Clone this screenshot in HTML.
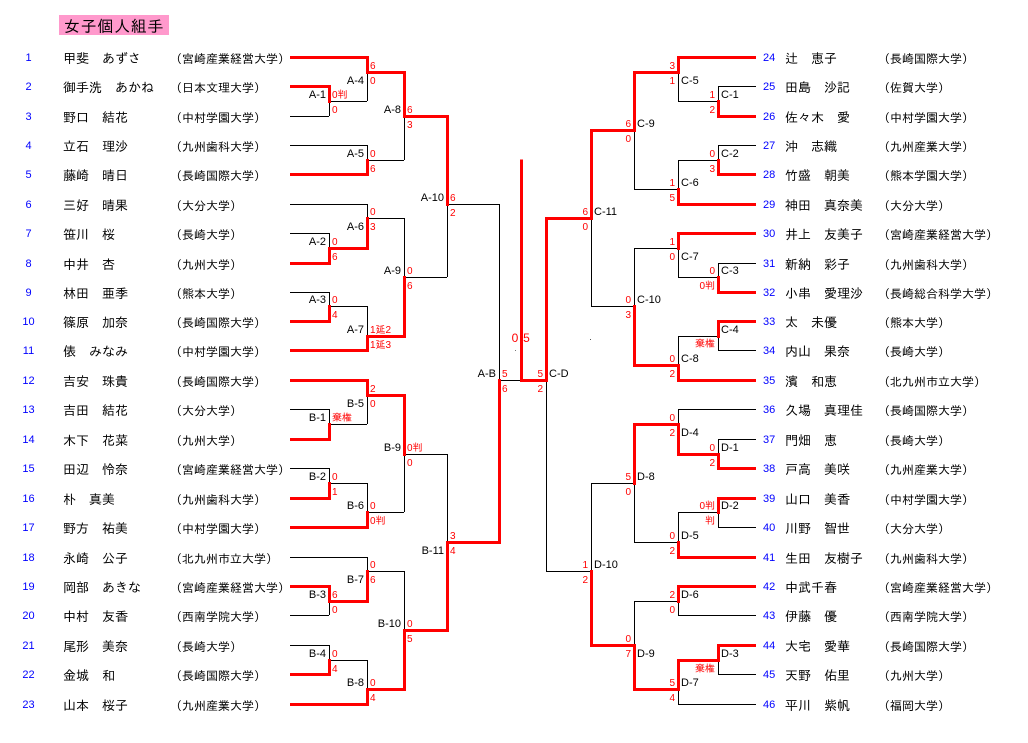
<!DOCTYPE html>
<html><head><meta charset="utf-8">
<style>
html,body{margin:0;padding:0;background:#fff;}
svg{display:block;}
text{font-family:"Liberation Sans","IPAGothic","Noto Sans CJK JP",sans-serif;}
.b{stroke:#000;stroke-width:1;fill:none;}
.r{stroke:#f00;stroke-width:3;fill:none;stroke-linecap:square;}
.nm{font-size:13px;fill:#000;}
.un{font-size:12px;fill:#000;}
.no{font-size:11px;fill:#00f;}
.lb{font-size:11px;fill:#000;}
.sc{font-size:10px;fill:#f00;}
</style></head>
<body>
<svg width="1028" height="743" viewBox="0 0 1028 743" xmlns="http://www.w3.org/2000/svg" shape-rendering="crispEdges">
<rect x="0" y="0" width="1028" height="743" fill="#fff"/>
<rect x="59" y="15" width="110" height="20" fill="#ff99cc"/>
<text x="64" y="32" style="font-size:16px;letter-spacing:0.7px" fill="#000">女子個人組手</text>

<!-- LEFT black lines -->
<g class="b">
<path d="M290 116.5H329"/><path d="M290 145.5H367"/><path d="M290 204.5H367"/><path d="M290 233.5H329"/>
<path d="M290 292.5H329"/><path d="M290 409.5H329"/><path d="M290 468.5H329"/><path d="M290 557.5H367"/>
<path d="M290 615.5H329"/><path d="M290 645.5H329"/>
<path d="M329.5 86V116"/><path d="M329 101.5H367"/>
<path d="M367.5 57V101"/>
<path d="M367.5 145V174"/><path d="M367 160.5H404"/>
<path d="M404.5 72V160"/>
<path d="M447.5 116V277"/><path d="M447 204.5H499"/>
<path d="M329.5 233V263"/>
<path d="M367.5 204V248"/><path d="M367 218.5H404"/>
<path d="M329.5 292V321"/><path d="M329 306.5H367"/>
<path d="M367.5 306V350"/>
<path d="M404.5 218V336"/><path d="M404 277.5H447"/>
<path d="M499.5 204V542"/><path d="M499 380.5H521"/>
<path d="M329.5 409V439"/><path d="M329 424.5H367"/>
<path d="M367.5 380V424"/>
<path d="M329.5 468V498"/><path d="M329 483.5H367"/>
<path d="M367.5 483V527"/><path d="M367 512.5H404"/>
<path d="M404.5 395V512"/><path d="M404 454.5H447"/>
<path d="M329.5 586V615"/>
<path d="M367.5 557V601"/><path d="M367 571.5H404"/>
<path d="M329.5 645V674"/><path d="M329 660.5H367"/>
<path d="M367.5 660V704"/>
<path d="M404.5 571V689"/>
<path d="M447.5 454V630"/>
</g>
<!-- RIGHT black lines -->
<g class="b">
<path d="M718 86.5H756"/><path d="M718 145.5H756"/><path d="M718 263.5H756"/><path d="M718 350.5H756"/>
<path d="M678 409.5H756"/><path d="M718 439.5H756"/><path d="M718 527.5H756"/><path d="M678 615.5H756"/>
<path d="M718 674.5H756"/><path d="M678 704.5H756"/>
<path d="M718.5 86V116"/><path d="M678 101.5H718"/>
<path d="M678.5 57V101"/>
<path d="M718.5 145V174"/><path d="M678 160.5H718"/>
<path d="M678.5 160V204"/><path d="M634 189.5H678"/>
<path d="M634.5 72V189"/>
<path d="M718.5 263V292"/><path d="M678 277.5H718"/>
<path d="M678.5 233V277"/><path d="M634 248.5H678"/>
<path d="M718.5 321V350"/><path d="M678 336.5H718"/>
<path d="M678.5 336V380"/>
<path d="M634.5 248V365"/><path d="M591 306.5H634"/>
<path d="M591.5 130V306"/>
<path d="M546.5 218V571"/>
<path d="M718.5 439V468"/>
<path d="M678.5 409V454"/>
<path d="M718.5 498V527"/><path d="M678 512.5H718"/>
<path d="M678.5 512V557"/><path d="M634 542.5H678"/>
<path d="M634.5 424V542"/><path d="M591 483.5H634"/>
<path d="M678.5 586V615"/><path d="M634 601.5H678"/>
<path d="M718.5 645V674"/>
<path d="M678.5 660V704"/>
<path d="M634.5 601V689"/>
<path d="M591.5 483V645"/><path d="M546 571.5H591"/>
</g>

<!-- LEFT red lines -->
<g class="r">
<path d="M291.5 57.5H367.5V72.5H404.5V116.5H447.5V204.5"/>
<path d="M291.5 86.5H329.5V101.5"/>
<path d="M291.5 174.5H367.5V160.5"/>
<path d="M291.5 263.5H329.5V248.5H367.5V218.5"/>
<path d="M291.5 321.5H329.5V306.5"/>
<path d="M291.5 350.5H367.5V336.5H404.5V277.5"/>
<path d="M291.5 380.5H367.5V395.5H404.5V454.5"/>
<path d="M291.5 439.5H329.5V424.5"/>
<path d="M291.5 498.5H329.5V483.5"/>
<path d="M291.5 527.5H367.5V512.5"/>
<path d="M291.5 586.5H329.5V601.5H367.5V571.5"/>
<path d="M291.5 674.5H329.5V660.5"/>
<path d="M291.5 704.5H367.5V689.5H404.5V630.5H447.5V542.5H499.5V380.5"/>
<path d="M521.5 161V380.5H546.5V218.5H591.5V130.5H634.5V72.5H678.5V57.5H754.5"/>
</g>
<!-- RIGHT red lines -->
<g class="r">
<path d="M754.5 116.5H718.5V101.5"/>
<path d="M754.5 174.5H718.5V160.5"/>
<path d="M754.5 204.5H678.5V189.5"/>
<path d="M754.5 233.5H678.5V248.5"/>
<path d="M754.5 292.5H718.5V277.5"/>
<path d="M754.5 321.5H718.5V336.5"/>
<path d="M754.5 380.5H678.5V365.5H634.5V306.5"/>
<path d="M754.5 468.5H718.5V454.5H678.5V424.5H634.5V483.5"/>
<path d="M754.5 498.5H718.5V512.5"/>
<path d="M754.5 557.5H678.5V542.5"/>
<path d="M754.5 586.5H678.5V601.5"/>
<path d="M754.5 645.5H718.5V660.5H678.5V689.5H634.5V645.5H591.5V571.5"/>
</g>

<rect x="515" y="350" width="1" height="1" fill="#777"/>
<rect x="590" y="339" width="1" height="1" fill="#555"/>
<text x="515" y="342" text-anchor="middle" style="font-size:12px" fill="#f00">0</text>
<text x="526.5" y="342" text-anchor="middle" style="font-size:12px" fill="#f00">5</text>

<!-- LEFT numbers -->
<g class="no" text-anchor="middle">
<text x="28.5" y="61">1</text><text x="28.5" y="90">2</text><text x="28.5" y="120">3</text><text x="28.5" y="149">4</text>
<text x="28.5" y="178">5</text><text x="28.5" y="208">6</text><text x="28.5" y="237">7</text><text x="28.5" y="267">8</text>
<text x="28.5" y="296">9</text><text x="28.5" y="325">10</text><text x="28.5" y="354">11</text><text x="28.5" y="384">12</text>
<text x="28.5" y="413">13</text><text x="28.5" y="443">14</text><text x="28.5" y="472">15</text><text x="28.5" y="502">16</text>
<text x="28.5" y="531">17</text><text x="28.5" y="561">18</text><text x="28.5" y="590">19</text><text x="28.5" y="619">20</text>
<text x="28.5" y="649">21</text><text x="28.5" y="678">22</text><text x="28.5" y="708">23</text>
</g>
<!-- LEFT names -->
<g class="nm">
<text x="63" y="63">甲斐　あずさ</text>
<text x="63" y="92">御手洗　あかね</text>
<text x="63" y="122">野口　結花</text>
<text x="63" y="151">立石　理沙</text>
<text x="63" y="180">藤崎　晴日</text>
<text x="63" y="210">三好　晴果</text>
<text x="63" y="239">笹川　桜</text>
<text x="63" y="269">中井　杏</text>
<text x="63" y="298">林田　亜季</text>
<text x="63" y="327">篠原　加奈</text>
<text x="63" y="356">俵　みなみ</text>
<text x="63" y="386">吉安　珠貴</text>
<text x="63" y="415">吉田　結花</text>
<text x="63" y="445">木下　花菜</text>
<text x="63" y="474">田辺　怜奈</text>
<text x="63" y="504">朴　真美</text>
<text x="63" y="533">野方　祐美</text>
<text x="63" y="563">永崎　公子</text>
<text x="63" y="592">岡部　あきな</text>
<text x="63" y="621">中村　友香</text>
<text x="63" y="651">尾形　美奈</text>
<text x="63" y="680">金城　和</text>
<text x="63" y="710">山本　桜子</text>
</g>
<g class="un">
<text x="170" y="63">（宮崎産業経営大学）</text>
<text x="170" y="92">（日本文理大学）</text>
<text x="170" y="122">（中村学園大学）</text>
<text x="170" y="151">（九州歯科大学）</text>
<text x="170" y="180">（長崎国際大学）</text>
<text x="170" y="210">（大分大学）</text>
<text x="170" y="239">（長崎大学）</text>
<text x="170" y="269">（九州大学）</text>
<text x="170" y="298">（熊本大学）</text>
<text x="170" y="327">（長崎国際大学）</text>
<text x="170" y="356">（中村学園大学）</text>
<text x="170" y="386">（長崎国際大学）</text>
<text x="170" y="415">（大分大学）</text>
<text x="170" y="445">（九州大学）</text>
<text x="170" y="474">（宮崎産業経営大学）</text>
<text x="170" y="504">（九州歯科大学）</text>
<text x="170" y="533">（中村学園大学）</text>
<text x="170" y="563">（北九州市立大学）</text>
<text x="170" y="592">（宮崎産業経営大学）</text>
<text x="170" y="621">（西南学院大学）</text>
<text x="170" y="651">（長崎大学）</text>
<text x="170" y="680">（長崎国際大学）</text>
<text x="170" y="710">（九州産業大学）</text>
</g>

<!-- RIGHT numbers -->
<g class="no">
<text x="763" y="61">24</text><text x="763" y="90">25</text><text x="763" y="120">26</text><text x="763" y="149">27</text>
<text x="763" y="178">28</text><text x="763" y="208">29</text><text x="763" y="237">30</text><text x="763" y="267">31</text>
<text x="763" y="296">32</text><text x="763" y="325">33</text><text x="763" y="354">34</text><text x="763" y="384">35</text>
<text x="763" y="413">36</text><text x="763" y="443">37</text><text x="763" y="472">38</text><text x="763" y="502">39</text>
<text x="763" y="531">40</text><text x="763" y="561">41</text><text x="763" y="590">42</text><text x="763" y="619">43</text>
<text x="763" y="649">44</text><text x="763" y="678">45</text><text x="763" y="708">46</text>
</g>
<g class="nm">
<text x="785" y="63">辻　恵子</text>
<text x="785" y="92">田島　沙記</text>
<text x="785" y="122">佐々木　愛</text>
<text x="785" y="151">沖　志織</text>
<text x="785" y="180">竹盛　朝美</text>
<text x="785" y="210">神田　真奈美</text>
<text x="785" y="239">井上　友美子</text>
<text x="785" y="269">新納　彩子</text>
<text x="785" y="298">小串　愛理沙</text>
<text x="785" y="327">太　未優</text>
<text x="785" y="356">内山　果奈</text>
<text x="785" y="386">濱　和恵</text>
<text x="785" y="415">久場　真理佳</text>
<text x="785" y="445">門畑　恵</text>
<text x="785" y="474">戸高　美咲</text>
<text x="785" y="504">山口　美香</text>
<text x="785" y="533">川野　智世</text>
<text x="785" y="563">生田　友樹子</text>
<text x="785" y="592">中武千春</text>
<text x="785" y="621">伊藤　優</text>
<text x="785" y="651">大宅　愛華</text>
<text x="785" y="680">天野　佑里</text>
<text x="785" y="710">平川　紫帆</text>
</g>
<g class="un">
<text x="878" y="63">（長崎国際大学）</text>
<text x="878" y="92">（佐賀大学）</text>
<text x="878" y="122">（中村学園大学）</text>
<text x="878" y="151">（九州産業大学）</text>
<text x="878" y="180">（熊本学園大学）</text>
<text x="878" y="210">（大分大学）</text>
<text x="878" y="239">（宮崎産業経営大学）</text>
<text x="878" y="269">（九州歯科大学）</text>
<text x="878" y="298">（長崎総合科学大学）</text>
<text x="878" y="327">（熊本大学）</text>
<text x="878" y="356">（長崎大学）</text>
<text x="878" y="386">（北九州市立大学）</text>
<text x="878" y="415">（長崎国際大学）</text>
<text x="878" y="445">（長崎大学）</text>
<text x="878" y="474">（九州産業大学）</text>
<text x="878" y="504">（中村学園大学）</text>
<text x="878" y="533">（大分大学）</text>
<text x="878" y="563">（九州歯科大学）</text>
<text x="878" y="592">（宮崎産業経営大学）</text>
<text x="878" y="621">（西南学院大学）</text>
<text x="878" y="651">（長崎国際大学）</text>
<text x="878" y="680">（九州大学）</text>
<text x="878" y="710">（福岡大学）</text>
</g>

<!-- LEFT match labels -->
<g class="lb" text-anchor="end">
<text x="326" y="98">A-1</text><text x="364" y="84">A-4</text><text x="364" y="157">A-5</text><text x="401" y="113">A-8</text>
<text x="444" y="201">A-10</text><text x="326" y="245">A-2</text><text x="364" y="230">A-6</text><text x="401" y="274">A-9</text>
<text x="326" y="303">A-3</text><text x="364" y="333">A-7</text><text x="496" y="377">A-B</text>
<text x="364" y="407">B-5</text><text x="326" y="421">B-1</text><text x="401" y="451">B-9</text><text x="326" y="480">B-2</text>
<text x="364" y="509">B-6</text><text x="444" y="554">B-11</text><text x="364" y="583">B-7</text><text x="326" y="598">B-3</text>
<text x="401" y="627">B-10</text><text x="326" y="657">B-4</text><text x="364" y="686">B-8</text>
</g>
<!-- LEFT scores -->
<g class="sc">
<text x="332" y="98">0判</text><text x="332" y="113">0</text>
<text x="370" y="69">6</text><text x="370" y="84">0</text>
<text x="370" y="157">0</text><text x="370" y="172">6</text>
<text x="407" y="113">6</text><text x="407" y="128">3</text>
<text x="450" y="201">6</text><text x="450" y="216">2</text>
<text x="332" y="245">0</text><text x="332" y="260">6</text>
<text x="370" y="215">0</text><text x="370" y="230">3</text>
<text x="407" y="274">0</text><text x="407" y="289">6</text>
<text x="332" y="303">0</text><text x="332" y="318">4</text>
<text x="370" y="333">1延2</text><text x="370" y="348">1延3</text>
<text x="502" y="377">5</text><text x="502" y="392">6</text>
<text x="370" y="392">2</text><text x="370" y="407">0</text>
<text x="332" y="421">棄権</text>
<text x="407" y="451">0判</text><text x="407" y="466">0</text>
<text x="332" y="480">0</text><text x="332" y="495">1</text>
<text x="370" y="509">0</text><text x="370" y="524">0判</text>
<text x="450" y="539">3</text><text x="450" y="554">4</text>
<text x="370" y="568">0</text><text x="370" y="583">6</text>
<text x="332" y="598">6</text><text x="332" y="613">0</text>
<text x="407" y="627">0</text><text x="407" y="642">5</text>
<text x="332" y="657">0</text><text x="332" y="672">4</text>
<text x="370" y="686">0</text><text x="370" y="701">4</text>
</g>

<!-- RIGHT match labels -->
<g class="lb">
<text x="681" y="84">C-5</text><text x="721" y="98">C-1</text><text x="637" y="127">C-9</text><text x="721" y="157">C-2</text>
<text x="681" y="186">C-6</text><text x="594" y="215">C-11</text><text x="681" y="260">C-7</text><text x="721" y="274">C-3</text>
<text x="637" y="303">C-10</text><text x="721" y="333">C-4</text><text x="681" y="362">C-8</text><text x="549" y="377">C-D</text>
<text x="681" y="436">D-4</text><text x="721" y="451">D-1</text><text x="637" y="480">D-8</text><text x="721" y="509">D-2</text>
<text x="681" y="539">D-5</text><text x="594" y="568">D-10</text><text x="681" y="598">D-6</text><text x="637" y="657">D-9</text>
<text x="721" y="657">D-3</text><text x="681" y="686">D-7</text>
</g>
<!-- RIGHT scores -->
<g class="sc" text-anchor="end">
<text x="675" y="69">3</text><text x="675" y="84">1</text>
<text x="715" y="98">1</text><text x="715" y="113">2</text>
<text x="631" y="127">6</text><text x="631" y="142">0</text>
<text x="715" y="157">0</text><text x="715" y="172">3</text>
<text x="675" y="186">1</text><text x="675" y="201">5</text>
<text x="588" y="215">6</text><text x="588" y="230">0</text>
<text x="675" y="245">1</text><text x="675" y="260">0</text>
<text x="715" y="274">0</text><text x="715" y="289">0判</text>
<text x="631" y="303">0</text><text x="631" y="318">3</text>
<text x="715" y="347">棄権</text>
<text x="675" y="362">0</text><text x="675" y="377">2</text>
<text x="543" y="377">5</text><text x="543" y="392">2</text>
<text x="675" y="421">0</text><text x="675" y="436">2</text>
<text x="715" y="451">0</text><text x="715" y="466">2</text>
<text x="631" y="480">5</text><text x="631" y="495">0</text>
<text x="715" y="509">0判</text><text x="715" y="524">判</text>
<text x="675" y="539">0</text><text x="675" y="554">2</text>
<text x="588" y="568">1</text><text x="588" y="583">2</text>
<text x="675" y="598">2</text><text x="675" y="613">0</text>
<text x="631" y="642">0</text><text x="631" y="657">7</text>
<text x="715" y="672">棄権</text>
<text x="675" y="686">5</text><text x="675" y="701">4</text>
</g>
</svg>
</body></html>
